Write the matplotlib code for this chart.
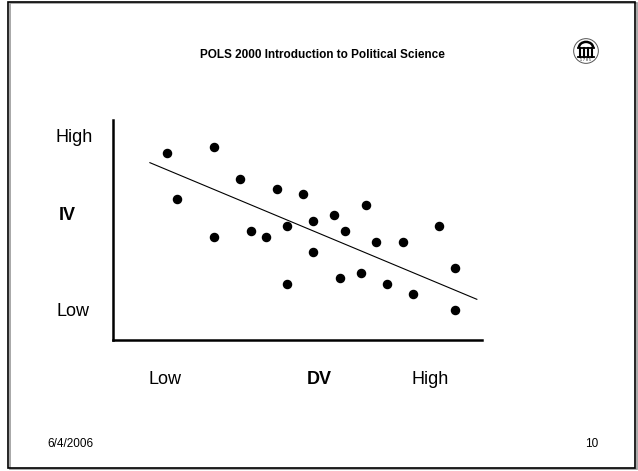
import matplotlib
matplotlib.use('Agg')
from matplotlib import pyplot as plt
from matplotlib import patches
import numpy as np

plt.rcParams['font.family'] = ['Liberation Sans', 'DejaVu Sans']

# scatter points (DV on x, IV on y, both on a 0-10 scale)
dv = [1.45, 2.73, 1.73, 3.43, 4.45, 5.14, 2.73, 3.73, 4.15, 4.72, 5.43, 6.00, 6.85,
      6.30, 5.43, 4.72, 6.14, 6.72, 7.14, 7.85, 7.42, 8.13, 8.84, 9.28, 9.28]
iv = [8.51, 8.79, 6.41, 7.33, 6.86, 6.65, 4.70, 4.97, 4.70, 5.20, 5.42, 5.68, 6.15,
      4.97, 4.00, 2.56, 2.83, 3.06, 4.47, 4.47, 2.56, 2.10, 5.20, 3.29, 1.38]

# fitted line end points
line_x = [1.00, 9.86]
line_y = [8.06, 1.85]

W, H = 638, 471
fig = plt.figure(figsize=(W / 100, H / 100), dpi=100)

def fx(px):
    return px / W

def fy(py):
    return 1 - py / H

# slide frame with a little shadow
fig.patches.append(patches.Rectangle((fx(10), fy(469)), fx(627), 466 / H,
                                     transform=fig.transFigure, fill=False,
                                     edgecolor='#9a9a9a', lw=1.2))
fig.patches.append(patches.Rectangle((fx(8), fy(468)), fx(627), 466 / H,
                                     transform=fig.transFigure, fill=False,
                                     edgecolor='black', lw=1.2))

ax = fig.add_axes([fx(113), fy(340), fx(369), 220 / H])
ax.scatter(dv, iv, s=34, color='black', zorder=3)
ax.plot(line_x, line_y, color='black', lw=0.8)
ax.set_xlim(0, 10)
ax.set_ylim(0, 10)
for side in ['top', 'right']:
    ax.spines[side].set_visible(False)
for side in ['left', 'bottom']:
    ax.spines[side].set_linewidth(1.8)
ax.set_xticks([])
ax.set_yticks([])
ax.patch.set_alpha(0)

# titles and labels
fig.text(fx(322), fy(55), 'POLS 2000 Introduction to Political Science',
         ha='center', va='center', fontsize=8.5, fontweight='bold')
fig.text(fx(74), fy(138), 'High', ha='center', va='center', fontsize=13)
fig.text(fx(67), fy(215), 'IV', ha='center', va='center', fontsize=13, fontweight='bold')
fig.text(fx(73), fy(311), 'Low', ha='center', va='center', fontsize=13)
fig.text(fx(165), fy(380), 'Low', ha='center', va='center', fontsize=13)
fig.text(fx(319), fy(380), 'DV', ha='center', va='center', fontsize=13, fontweight='bold')
fig.text(fx(430), fy(380), 'High', ha='center', va='center', fontsize=13)
fig.text(fx(70), fy(444), '6/4/2006', ha='center', va='center', fontsize=8.5)
fig.text(fx(592), fy(444), '10', ha='center', va='center', fontsize=8.5)

# small arch logo
lg = fig.add_axes([fx(573), fy(64), fx(26), 26 / H])
lg.set_xlim(-1, 1)
lg.set_ylim(-1, 1)
lg.set_aspect('equal')
lg.axis('off')
lg.add_patch(patches.Circle((0, 0), 0.95, fill=False, lw=0.7, edgecolor='#555555'))
lg.add_patch(patches.Arc((0, 0.25), 1.1, 0.9, theta1=0, theta2=180, lw=1.8, color='black'))
lg.plot([-0.6, 0.6], [0.25, 0.25], color='black', lw=1.3)
for cx in [-0.45, -0.15, 0.15, 0.45]:
    lg.plot([cx, cx], [0.25, -0.45], color='black', lw=1.5)
lg.plot([-0.62, 0.62], [-0.45, -0.45], color='black', lw=1.3)
lg.text(0, -0.68, '1 7 8 5', ha='center', va='center', fontsize=2.5)

fig.savefig('out.png', dpi=100)
